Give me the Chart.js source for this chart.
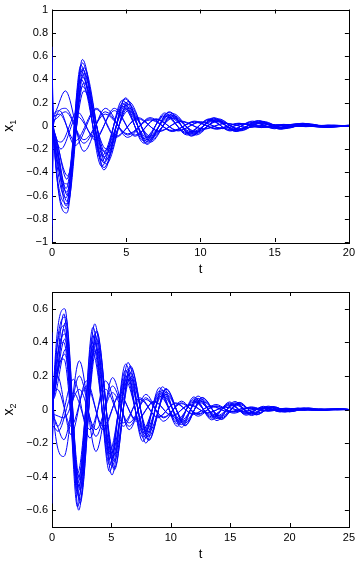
<!DOCTYPE html>
<html>
<head>
<meta charset="utf-8">
<script src="https://cdn.jsdelivr.net/npm/chart.js@4.4.1/dist/chart.umd.min.js"></script>
<style>
html,body{margin:0;padding:0;background:#fff;}
#wrap{position:relative;width:360px;height:563px;}
canvas{position:absolute;left:0;}
</style>
</head>
<body>
<div id="wrap">
<canvas id="c1" width="360" height="282" style="top:0"></canvas>
<canvas id="c2" width="360" height="281" style="top:282px"></canvas>
</div>
<script>
// ---------- tick labels ----------
const topXTicks = [0, 5, 10, 15, 20];
const topYTicks = [-1, -0.8, -0.6, -0.4, -0.2, 0, 0.2, 0.4, 0.6, 0.8, 1];
const botXTicks = [0, 5, 10, 15, 20, 25];
const botYTicks = [-0.6, -0.4, -0.2, 0, 0.2, 0.4, 0.6];

// ---------- x1 (top): times of start / extrema per family ----------
const tTopA  = [0, 0.08, 1.0, 2.05, 3.5, 4.95, 6.4, 7.9, 9.4, 10.9, 12.4, 13.9, 15.4, 16.9, 18.4, 20];
const tTopAe = [0, 0.08, 0.95, 1.95, 3.35, 4.75, 6.2, 7.6, 9.1, 10.6, 12.0, 13.5, 15.0, 16.5, 18.0, 20];
const tTopAl = [0, 0.08, 1.05, 2.15, 3.65, 5.15, 6.65, 8.15, 9.7, 11.2, 12.7, 14.2, 15.7, 17.2, 18.7, 20];
const tTopB  = [0, 0.08, 0.9, 2.15, 3.6, 5.1, 6.6, 8.1, 9.6, 11.1, 12.6, 14.1, 15.6, 17.1, 18.6, 20];
const tTopC  = [0, 0.08, 0.5, 1.55, 3.0, 4.3, 5.8, 7.2, 8.7, 10.2, 11.7, 13.2, 14.7, 16.2, 17.7, 19.2, 20];
const tTopD  = [0, 0.08, 0.6, 1.7, 2.9, 4.2, 5.6, 7.0, 8.5, 10.0, 11.5, 13.0, 14.5, 16.0, 17.5, 19.0, 20];

// x1 values at those times
const x1FamA = [
  [0.68, 0.05, -0.75, 0.57, -0.38, 0.24, -0.16, 0.12, -0.09, 0.07, -0.05, 0.045, -0.03, 0.022, -0.015, 0.0],
  [0.45, -0.02, -0.71, 0.54, -0.36, 0.23, -0.15, 0.115, -0.085, 0.065, -0.048, 0.042, -0.028, 0.02, -0.013, 0.002],
  [-0.6, -0.08, -0.65, 0.49, -0.32, 0.20, -0.135, 0.10, -0.075, 0.058, -0.042, 0.036, -0.024, 0.017, -0.011, 0.003],
  [0.1, -0.03, -0.57, 0.42, -0.27, 0.175, -0.12, 0.088, -0.065, 0.05, -0.036, 0.03, -0.02, 0.014, -0.009, 0.002],
  [-0.2, -0.05, -0.46, 0.34, -0.22, 0.145, -0.10, 0.072, -0.053, 0.041, -0.03, 0.025, -0.017, 0.011, -0.007, 0.002]
];
const x1FamAe = [
  [-1.0, -0.1, -0.69, 0.52, -0.35, 0.22, -0.15, 0.11, -0.08, 0.06, -0.045, 0.04, -0.026, 0.019, -0.012, 0.005],
  [0.2, 0.0, -0.62, 0.47, -0.30, 0.19, -0.13, 0.095, -0.07, 0.055, -0.04, 0.034, -0.022, 0.016, -0.01, 0.004],
  [-0.35, -0.06, -0.54, 0.40, -0.26, 0.165, -0.11, 0.083, -0.06, 0.047, -0.034, 0.028, -0.019, 0.013, -0.009, 0.003]
];
const x1FamAl = [
  [0.3, -0.05, -0.67, 0.50, -0.33, 0.21, -0.14, 0.105, -0.08, 0.06, -0.044, 0.038, -0.025, 0.018, -0.012, 0.0],
  [-0.85, -0.12, -0.60, 0.45, -0.29, 0.185, -0.125, 0.09, -0.068, 0.052, -0.038, 0.032, -0.021, 0.015, -0.01, 0.0],
  [0.55, 0.02, -0.50, 0.37, -0.24, 0.155, -0.105, 0.078, -0.057, 0.044, -0.032, 0.027, -0.018, 0.012, -0.008, 0.0],
  [0.0, -0.02, -0.43, 0.30, -0.20, 0.13, -0.09, 0.066, -0.05, 0.038, -0.028, 0.023, -0.016, 0.01, -0.007, 0.001]
];
const x1FamB = [
  [0.6, 0.1, 0.30, -0.22, 0.15, -0.1, 0.07, -0.05, 0.04, -0.03, 0.022, -0.016, 0.012, -0.008, 0.005, 0.0],
  [-0.3, 0.0, 0.15, -0.15, 0.12, -0.08, 0.06, -0.045, 0.035, -0.026, 0.02, -0.014, 0.01, -0.007, 0.004, 0.0],
  [0.35, 0.05, 0.12, -0.12, 0.10, -0.07, 0.05, -0.04, 0.03, -0.022, 0.017, -0.012, 0.009, -0.006, 0.004, 0.0]
];
const x1FamC = [
  [-0.5, 0.05, 0.13, -0.17, 0.14, -0.1, 0.07, -0.05, 0.04, -0.03, 0.022, -0.016, 0.012, -0.008, 0.005, -0.003, 0.0],
  [0.15, 0.08, 0.10, -0.13, 0.15, -0.09, 0.06, -0.045, 0.035, -0.026, 0.02, -0.014, 0.01, -0.007, 0.004, -0.002, 0.0]
];
const x1FamD = [
  [0.25, 0.0, -0.14, 0.12, -0.12, 0.15, -0.09, 0.06, -0.045, 0.035, -0.025, 0.018, -0.012, 0.009, -0.006, 0.003, 0.0],
  [-0.7, -0.1, -0.2, 0.08, -0.1, 0.13, -0.08, 0.055, -0.04, 0.03, -0.022, 0.016, -0.011, 0.008, -0.005, 0.003, 0.0]
];

// ---------- x2 (bottom) ----------
const tBotA  = [0, 0.08, 1.08, 2.25, 3.6, 5.05, 6.4, 7.9, 9.3, 10.9, 12.3, 13.9, 15.4, 16.8, 18.2, 19.6, 21.2, 22.6, 24.0, 25];
const tBotAe = [0, 0.08, 1.0, 2.15, 3.45, 4.85, 6.2, 7.65, 9.05, 10.55, 11.95, 13.45, 14.95, 16.35, 17.8, 19.2, 20.7, 22.1, 23.5, 25];
const tBotAl = [0, 0.08, 1.15, 2.35, 3.75, 5.25, 6.6, 8.15, 9.6, 11.2, 12.65, 14.25, 15.75, 17.2, 18.6, 20.0, 21.6, 23.0, 24.4, 25];
const tBotB  = [0, 0.08, 1.0, 2.3, 3.7, 5.1, 6.5, 7.9, 9.4, 10.9, 12.3, 13.8, 15.3, 16.8, 18.2, 19.7, 21.2, 22.6, 24.0, 25];
const tBotC  = [0, 0.08, 0.45, 1.6, 2.9, 4.3, 5.7, 7.1, 8.6, 10.1, 11.6, 13.1, 14.6, 16.1, 17.5, 19.0, 20.5, 22.0, 23.5, 25];
const tBotD  = [0, 0.08, 0.5, 1.8, 3.2, 4.5, 6.0, 7.4, 8.9, 10.4, 11.9, 13.4, 14.9, 16.4, 17.9, 19.3, 20.8, 22.3, 23.8, 25];

const x2FamA = [
  [-0.56, 0.05, 0.60, -0.60, 0.51, -0.39, 0.28, -0.20, 0.135, -0.106, 0.08, -0.066, 0.048, -0.036, 0.02, -0.016, 0.01, -0.006, 0.004, 0.0],
  [-0.25, 0.03, 0.50, -0.52, 0.45, -0.34, 0.24, -0.17, 0.115, -0.09, 0.067, -0.055, 0.04, -0.03, 0.016, -0.013, 0.008, -0.005, 0.003, 0.0],
  [0.4, 0.1, 0.42, -0.46, 0.40, -0.30, 0.21, -0.15, 0.10, -0.078, 0.057, -0.047, 0.034, -0.025, 0.013, -0.01, 0.006, -0.004, 0.002, 0.0],
  [0.0, 0.05, 0.33, -0.40, 0.35, -0.26, 0.18, -0.125, 0.085, -0.065, 0.047, -0.037, 0.028, -0.02, 0.01, -0.008, 0.005, -0.003, 0.002, 0.0]
];
const x2FamAe = [
  [0.46, 0.12, 0.57, -0.58, 0.49, -0.37, 0.27, -0.19, 0.13, -0.10, 0.075, -0.062, 0.045, -0.034, 0.019, -0.015, 0.009, -0.006, 0.004, 0.0],
  [0.2, 0.08, 0.48, -0.50, 0.44, -0.33, 0.235, -0.165, 0.11, -0.086, 0.064, -0.052, 0.038, -0.028, 0.015, -0.012, 0.007, -0.004, 0.003, 0.0],
  [-0.5, 0.0, 0.40, -0.44, 0.38, -0.29, 0.20, -0.14, 0.095, -0.074, 0.054, -0.044, 0.032, -0.024, 0.012, -0.01, 0.006, -0.003, 0.002, 0.0],
  [-0.3, 0.02, 0.30, -0.38, 0.33, -0.25, 0.17, -0.12, 0.08, -0.06, 0.045, -0.035, 0.026, -0.019, 0.01, -0.008, 0.004, -0.002, 0.001, 0.0]
];
const x2FamAl = [
  [-0.4, 0.02, 0.55, -0.56, 0.47, -0.36, 0.26, -0.185, 0.125, -0.097, 0.072, -0.06, 0.043, -0.032, 0.018, -0.014, 0.009, -0.005, 0.003, 0.0],
  [0.3, 0.1, 0.52, -0.54, 0.46, -0.35, 0.25, -0.18, 0.12, -0.093, 0.07, -0.057, 0.041, -0.031, 0.017, -0.013, 0.008, -0.005, 0.003, 0.0],
  [-0.1, 0.04, 0.45, -0.48, 0.42, -0.31, 0.22, -0.16, 0.105, -0.082, 0.06, -0.05, 0.036, -0.027, 0.014, -0.011, 0.007, -0.004, 0.002, 0.0],
  [0.1, 0.06, 0.36, -0.42, 0.36, -0.27, 0.19, -0.135, 0.09, -0.07, 0.05, -0.04, 0.03, -0.022, 0.011, -0.009, 0.005, -0.003, 0.002, 0.0]
];
const x2FamB = [
  [0.3, 0.0, -0.28, 0.29, -0.25, 0.19, -0.12, 0.09, -0.07, 0.05, -0.04, 0.03, -0.022, 0.016, -0.011, 0.008, -0.005, 0.003, -0.002, 0.0],
  [-0.2, -0.05, -0.18, 0.2, -0.16, 0.14, -0.1, 0.07, -0.05, 0.04, -0.03, 0.022, -0.016, 0.012, -0.008, 0.006, -0.004, 0.002, -0.001, 0.0],
  [-0.04, -0.03, -0.05, 0.12, -0.12, 0.10, -0.08, 0.06, -0.045, 0.035, -0.025, 0.018, -0.013, 0.009, -0.006, 0.004, -0.003, 0.002, -0.001, 0.0]
];
const x2FamC = [
  [0.1, 0.12, 0.2, -0.15, 0.17, -0.12, 0.09, -0.07, 0.05, -0.04, 0.03, -0.022, 0.016, -0.012, 0.008, -0.006, 0.004, -0.002, 0.001, 0.0],
  [-0.15, 0.05, 0.12, -0.1, 0.14, -0.1, 0.08, -0.06, 0.045, -0.035, 0.025, -0.018, 0.013, -0.01, 0.006, -0.004, 0.003, -0.002, 0.001, 0.0]
];
const x2FamD = [
  [0.2, 0.05, -0.1, 0.18, -0.17, 0.17, -0.1, 0.07, -0.05, 0.04, -0.03, 0.022, -0.016, 0.011, -0.008, 0.005, -0.003, 0.002, -0.001, 0.0],
  [-0.45, -0.1, -0.13, 0.1, -0.12, 0.12, -0.08, 0.06, -0.045, 0.035, -0.025, 0.018, -0.013, 0.009, -0.006, 0.004, -0.003, 0.002, -0.001, 0.0]
];

// ---------- helpers ----------
const BLUE = '#0000ff';
const FONT = '"Liberation Sans", Arial, Helvetica, sans-serif';

function family(times, list) {
  return list.map(vals => ({
    data: times.map((t, i) => ({ x: t, y: vals[i] })),
    showLine: true,
    borderColor: BLUE,
    backgroundColor: BLUE,
    borderWidth: 1,
    pointRadius: 0,
    fill: false,
    cubicInterpolationMode: 'monotone'
  }));
}

function fmt(v) {
  const r = Math.round(v * 10) / 10;
  if (r === 0) return '0';
  return String(r).replace('-', '\u2212');
}

const frame = {
  id: 'frame',
  beforeDatasetsDraw(chart) {
    const { ctx, chartArea: a, scales } = chart;
    ctx.save();
    ctx.strokeStyle = '#000';
    ctx.lineWidth = 1;
    ctx.strokeRect(Math.round(a.left) + 0.5, Math.round(a.top) + 0.5,
                   Math.round(a.right - a.left), Math.round(a.bottom - a.top));
    const L = 4;
    ctx.beginPath();
    scales.x.ticks.forEach(t => {
      const px = Math.round(scales.x.getPixelForValue(t.value)) + 0.5;
      ctx.moveTo(px, a.bottom); ctx.lineTo(px, a.bottom - L);
      ctx.moveTo(px, a.top); ctx.lineTo(px, a.top + L);
    });
    scales.y.ticks.forEach(t => {
      const py = Math.round(scales.y.getPixelForValue(t.value)) + 0.5;
      ctx.moveTo(a.left, py); ctx.lineTo(a.left + L, py);
      ctx.moveTo(a.right, py); ctx.lineTo(a.right - L, py);
    });
    ctx.stroke();
    ctx.restore();
  },
  afterDraw(chart) {
    const { ctx, chartArea: a } = chart;
    const opt = chart.options.plugins.frame;
    ctx.save();
    ctx.fillStyle = '#000';
    ctx.font = '13px ' + FONT;
    ctx.textAlign = 'center';
    ctx.textBaseline = 'alphabetic';
    ctx.fillText('t', (a.left + a.right) / 2, a.bottom + 31);
    // y label x with subscript
    ctx.translate(13, (a.top + a.bottom) / 2);
    ctx.rotate(-Math.PI / 2);
    ctx.textAlign = 'left';
    ctx.font = '14px ' + FONT;
    const w = ctx.measureText('x').width;
    ctx.font = '9px ' + FONT;
    const w2 = ctx.measureText(opt.sub).width;
    const x0 = -(w + w2) / 2;
    ctx.font = '14px ' + FONT;
    ctx.fillText('x', x0, 0);
    ctx.font = '9px ' + FONT;
    ctx.fillText(opt.sub, x0 + w, 3);
    ctx.restore();
  }
};

function makeChart(id, datasets, xTicks, yTicks, xMax, yMin, yMax, padTop, xAxisH, sub) {
  return new Chart(document.getElementById(id), {
    type: 'scatter',
    data: { datasets },
    options: {
      responsive: false,
      animation: false,
      events: [],
      layout: { padding: { top: padTop, right: 8, left: 0, bottom: 0 } },
      plugins: { legend: { display: false }, tooltip: { enabled: false }, frame: { sub } },
      scales: {
        x: {
          type: 'linear', min: 0, max: xMax,
          afterBuildTicks: s => { s.ticks = xTicks.map(v => ({ value: v })); },
          afterFit: s => { s.height = xAxisH; },
          grid: { display: false, drawTicks: false },
          border: { display: false },
          ticks: { padding: 5, color: '#000', font: { family: FONT, size: 11, lineHeight: 1 },
                   maxRotation: 0, callback: v => fmt(v) }
        },
        y: {
          type: 'linear', min: yMin, max: yMax,
          afterBuildTicks: s => { s.ticks = yTicks.map(v => ({ value: v })); },
          afterFit: s => { s.width = 52; },
          grid: { display: false, drawTicks: false },
          border: { display: false },
          ticks: { padding: 4, color: '#000', font: { family: FONT, size: 11, lineHeight: 1 },
                   callback: v => fmt(v) }
        }
      }
    },
    plugins: [frame]
  });
}

const topSets = [].concat(
  family(tTopC, x1FamC), family(tTopD, x1FamD), family(tTopB, x1FamB),
  family(tTopA, x1FamA), family(tTopAe, x1FamAe), family(tTopAl, x1FamAl)
);
const botSets = [].concat(
  family(tBotC, x2FamC), family(tBotD, x2FamD), family(tBotB, x2FamB),
  family(tBotA, x2FamA), family(tBotAe, x2FamAe), family(tBotAl, x2FamAl)
);

makeChart('c1', topSets, topXTicks, topYTicks, 20, -1, 1, 6, 40, '1');
makeChart('c2', botSets, botXTicks, botYTicks, 25, -0.7, 0.7, 10, 36, '2');
</script>
</body>
</html>
